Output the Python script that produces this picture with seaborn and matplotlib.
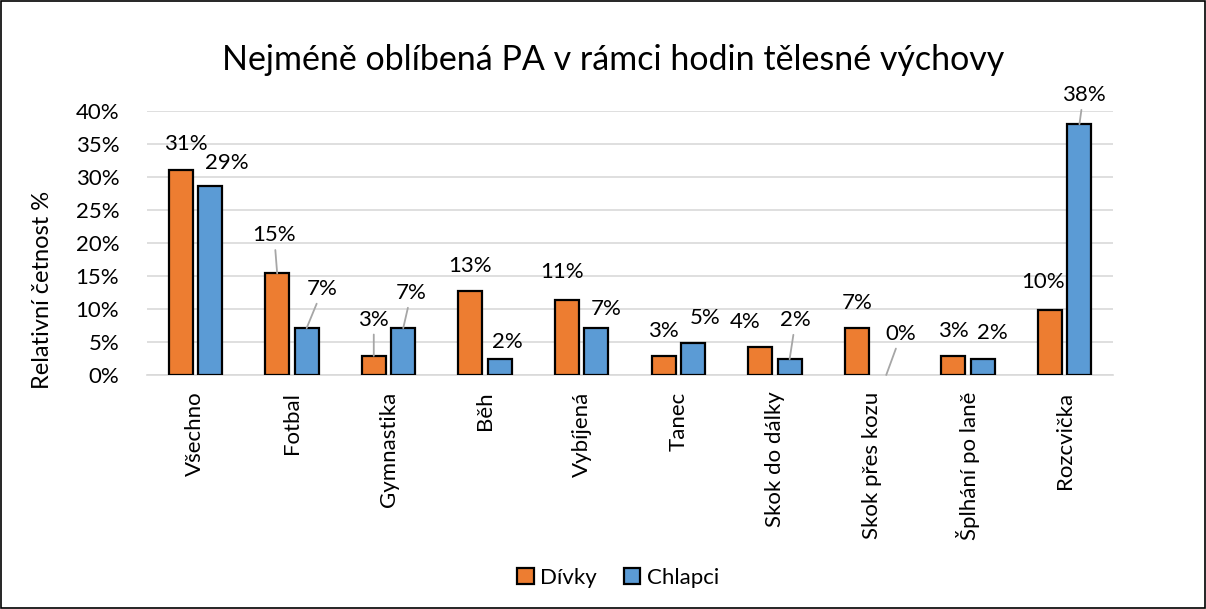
import matplotlib
matplotlib.use("Agg")
from matplotlib import pyplot as plt
from matplotlib.patches import Patch, Rectangle
from matplotlib.ticker import PercentFormatter
import numpy as np
import pandas as pd
import seaborn as sns

# data (relative frequency, %)
aktivity = ["Všechno", "Fotbal", "Gymnastika", "Běh", "Vybíjená", "Tanec",
            "Skok do dálky", "Skok přes kozu", "Šplhání po laně", "Rozcvička"]
divky = [31.0, 15.4, 2.9, 12.7, 11.3, 2.9, 4.3, 7.1, 2.9, 9.9]
chlapci = [28.6, 7.1, 7.1, 2.4, 7.1, 4.8, 2.4, 0.0, 2.4, 38.0]
skupiny = ["Dívky", "Chlapci"]

barvy = {"Dívky": "#ED7D31", "Chlapci": "#5B9BD5"}

df = pd.DataFrame({
    "Aktivita": aktivity * 2,
    "Podíl": divky + chlapci,
    "Pohlaví": [skupiny[0]] * len(aktivity) + [skupiny[1]] * len(aktivity),
})

sns.set_style("white")
plt.rcParams["font.family"] = ["Lato", "DejaVu Sans"]
plt.rcParams["text.color"] = "black"

fig = plt.figure(figsize=(12.06, 6.09), dpi=100)
ax = fig.add_axes([147 / 1206, 1 - 375 / 609, (1113 - 147) / 1206, (375 - 111) / 609])

sns.barplot(data=df, x="Aktivita", y="Podíl", hue="Pohlaví", palette=barvy,
            saturation=1, width=0.61, gap=0.19, edgecolor="black", linewidth=1.6,
            legend=False, ax=ax, zorder=3)

ax.set_ylim(0, 40)
ax.set_yticks(np.arange(0, 41, 5))
ax.yaxis.set_major_formatter(PercentFormatter(xmax=100, decimals=0))
ax.grid(axis="y", color="#D9D9D9", linewidth=1.2, zorder=0)
ax.set_axisbelow(True)
for side in ["left", "right", "top"]:
    ax.spines[side].set_visible(False)
ax.spines["bottom"].set_color("#D9D9D9")
ax.spines["bottom"].set_linewidth(1.2)
ax.tick_params(axis="both", length=0, labelsize=16, colors="#000000")
ax.tick_params(axis="y", pad=20)
ax.tick_params(axis="x", pad=12)
ax.set_xlabel("")
ax.set_ylabel("")
plt.setp(ax.get_xticklabels(), rotation=90, ha="center", va="top")

# data labels, offsets mimic the manually moved labels of the original
posuny = {
    "Dívky": [(5, 26), (-3, 38), (0, 36), (0, 25), (-5, 28), (0, 25), (-15, 25), (0, 25), (0, 25), (-7, 28)],
    "Chlapci": [(17, 23), (16, 39), (8, 35), (8, 17), (10, 19), (12, 25), (6, 39), (15, 41), (10, 26), (4, 29)],
}
vodici = {
    "Dívky": [False, True, True, False, False, False, False, False, False, False],
    "Chlapci": [False, True, True, False, False, False, True, True, False, True],
}
for cont, skup in zip(ax.containers, skupiny):
    for i, bar in enumerate(cont):
        v = bar.get_height()
        if v == 0:
            bar.set_linewidth(0)
        x = bar.get_x() + bar.get_width() / 2
        dx, dy = posuny[skup][i]
        kw = {}
        if vodici[skup][i]:
            kw["arrowprops"] = dict(arrowstyle="-", color="#A6A6A6", lw=1.3,
                                    shrinkA=1, shrinkB=0)
        ax.annotate(f"{int(v + 0.5)}%", xy=(x, v), xytext=(dx, dy),
                    textcoords="offset pixels", ha="center", va="center",
                    fontsize=16, annotation_clip=False, **kw)

fig.suptitle("Nejméně oblíbená PA v rámci hodin tělesné výchovy",
             x=0.508, y=1 - 60 / 609, va="center", fontsize=24.5)
fig.text(43 / 1206, 1 - 290 / 609, "Relativní četnost %", rotation=90,
         ha="center", va="center", fontsize=17)

handles = [Patch(facecolor=barvy[s], edgecolor="black", linewidth=1.6, label=s)
           for s in skupiny]
fig.legend(handles=handles, loc="center", bbox_to_anchor=(618 / 1206, 1 - 578 / 609),
           ncol=2, frameon=False, fontsize=16, handlelength=0.75, handleheight=0.75,
           handletextpad=0.3, columnspacing=1.2)

fig.patches.append(Rectangle((0.0008, 0.0015), 0.9984, 0.997, transform=fig.transFigure,
                             fill=False, edgecolor="#000000", linewidth=1.2))

fig.savefig("out.png", dpi=100)
